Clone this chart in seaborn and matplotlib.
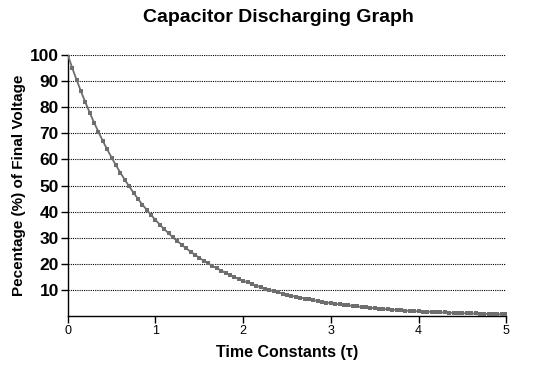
import pandas as pd
import seaborn as sns
import matplotlib.pyplot as plt

# time in time constants, read at 0.05 steps
time = [0.00, 0.05, 0.10, 0.15, 0.20, 0.25, 0.30, 0.35, 0.40, 0.45,
        0.50, 0.55, 0.60, 0.65, 0.70, 0.75, 0.80, 0.85, 0.90, 0.95,
        1.00, 1.05, 1.10, 1.15, 1.20, 1.25, 1.30, 1.35, 1.40, 1.45,
        1.50, 1.55, 1.60, 1.65, 1.70, 1.75, 1.80, 1.85, 1.90, 1.95,
        2.00, 2.05, 2.10, 2.15, 2.20, 2.25, 2.30, 2.35, 2.40, 2.45,
        2.50, 2.55, 2.60, 2.65, 2.70, 2.75, 2.80, 2.85, 2.90, 2.95,
        3.00, 3.05, 3.10, 3.15, 3.20, 3.25, 3.30, 3.35, 3.40, 3.45,
        3.50, 3.55, 3.60, 3.65, 3.70, 3.75, 3.80, 3.85, 3.90, 3.95,
        4.00, 4.05, 4.10, 4.15, 4.20, 4.25, 4.30, 4.35, 4.40, 4.45,
        4.50, 4.55, 4.60, 4.65, 4.70, 4.75, 4.80, 4.85, 4.90, 4.95,
        5.00]
# percentage of voltage
voltage = [100.0, 95.1, 90.5, 86.1, 81.9, 77.9, 74.1, 70.5, 67.0, 63.8,
           60.7, 57.7, 54.9, 52.2, 49.7, 47.2, 44.9, 42.7, 40.7, 38.7,
           36.8, 35.0, 33.3, 31.7, 30.1, 28.7, 27.3, 25.9, 24.7, 23.5,
           22.3, 21.2, 20.2, 19.2, 18.3, 17.4, 16.5, 15.7, 15.0, 14.2,
           13.5, 12.9, 12.2, 11.6, 11.1, 10.5, 10.0, 9.5, 9.1, 8.6,
           8.2, 7.8, 7.4, 7.1, 6.7, 6.4, 6.1, 5.8, 5.5, 5.2,
           5.0, 4.7, 4.5, 4.3, 4.1, 3.9, 3.7, 3.5, 3.3, 3.2,
           3.0, 2.9, 2.7, 2.6, 2.5, 2.4, 2.2, 2.1, 2.0, 1.9,
           1.8, 1.7, 1.7, 1.6, 1.5, 1.4, 1.4, 1.3, 1.2, 1.2,
           1.1, 1.1, 1.0, 1.0, 0.9, 0.9, 0.8, 0.8, 0.7, 0.7,
           0.7]
y_ticks = [10, 20, 30, 40, 50, 60, 70, 80, 90, 100]
x_ticks = [0, 1, 2, 3, 4, 5]

df = pd.DataFrame({'t': time, 'v': voltage})

sns.set_style('white')
plt.rcParams['font.family'] = ['Liberation Sans', 'DejaVu Sans']
plt.rcParams['text.color'] = 'black'
plt.rcParams['axes.labelcolor'] = 'black'
plt.rcParams['xtick.color'] = 'black'
plt.rcParams['ytick.color'] = 'black'

fig = plt.figure(figsize=(5.38, 3.79), dpi=100)
ax = fig.add_axes([0.126, 0.166, 0.815, 0.689])

for yv in y_ticks:
    ax.axhline(yv, color='black', linestyle=(0, (1, 1)), linewidth=0.8, zorder=1)

sns.lineplot(data=df, x='t', y='v', ax=ax, color='#6e6e6e', linewidth=1.3,
             marker='s', markersize=3.5, markeredgewidth=0, zorder=3)

ax.set_xlim(0, 5)
ax.set_ylim(0, 100)
ax.set_xticks(x_ticks)
ax.set_yticks(y_ticks)
ax.set_yticklabels([str(v) for v in y_ticks], fontweight='bold', fontsize=12.5)
ax.set_xticklabels([str(v) for v in x_ticks], fontsize=9)
ax.tick_params(axis='both', direction='out', length=5, width=1, color='black', pad=1.5,
               left=True, bottom=True)

for s in ['top', 'right']:
    ax.spines[s].set_visible(False)
for s in ['left', 'bottom']:
    ax.spines[s].set_color('black')
    ax.spines[s].set_linewidth(1)

ax.set_xlabel('Time Constants (τ)', fontweight='bold', fontsize=11.5, labelpad=6)
ax.set_ylabel('Pecentage (%) of Final Voltage', fontweight='bold', fontsize=11, labelpad=3)
fig.suptitle('Capacitor Discharging Graph', fontweight='bold', fontsize=14, x=0.518, y=0.975)

fig.savefig('out.png', dpi=100)
